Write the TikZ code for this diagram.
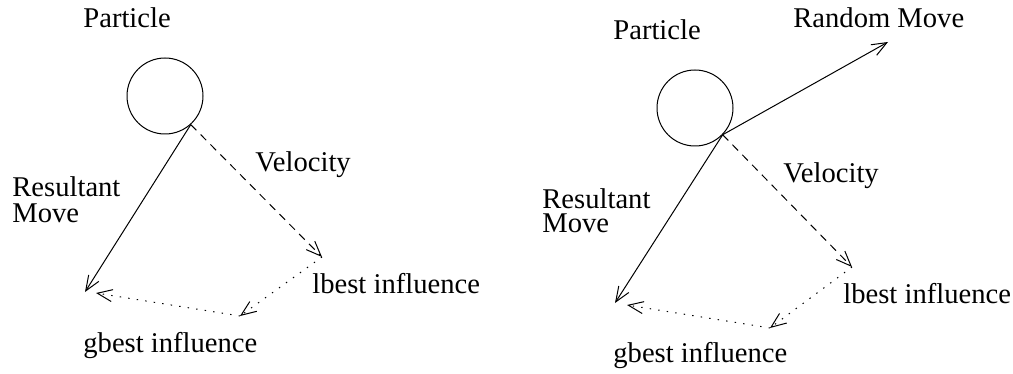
\documentclass[tikz,border=0pt]{standalone}
\usepackage{fontspec}
\setmainfont{Liberation Serif}
\usetikzlibrary{arrows.meta}
\begin{document}
\begin{tikzpicture}[x=0.5pt,y=-0.5pt,
  lbl/.style={anchor=base west,inner sep=0pt,font=\fontsize{14.3}{13}\selectfont},
  part/.style={circle,draw,line width=0.5pt,minimum size=38pt,inner sep=0pt},
  arr/.style={line width=0.5pt,-{Straight Barb[length=7.5pt,width=6pt,line width=0.5pt]}},
  vel/.style={arr,dash pattern=on 4pt off 3pt},
  infl/.style={arr,dash pattern=on 0.7pt off 3.6pt}]
\useasboundingbox (0,0) rectangle (1013,374);
% left
\node[part] (c1) at (165,96) {};
\coordinate (s1) at (c1.-48);
\coordinate (r1) at (85,292);
\coordinate (v1) at (322,257);
\coordinate (l1) at (240,316);
\coordinate (g1) at (96,293);
\draw[arr] (s1) -- (r1);
\draw[vel] (s1) -- (v1);
\draw[infl] (v1) -- (l1);
\draw[infl] (l1) -- (g1);
\node[lbl] (tp1) at (83,28) {Particle};
\node[lbl] (tv1) at (255,172) {Velocity};
\node[lbl] (tr1) at (12,197) {Resultant};
\node[lbl] (tq1) at (12,222) {Move};
\node[lbl] (tl1) at (312,293) {lbest influence};
\node[lbl] (tg1) at (83,352) {gbest influence};
% right
\node[part] (c2) at (695,108) {};
\coordinate (s2) at (c2.-44);
\coordinate (m2) at (888,42);
\coordinate (r2) at (615,303);
\coordinate (v2) at (852,267);
\coordinate (l2) at (770,328);
\coordinate (g2) at (627,305);
\draw[arr] (s2) -- (m2);
\draw[arr] (s2) -- (r2);
\draw[vel] (s2) -- (v2);
\draw[infl] (v2) -- (l2);
\draw[infl] (l2) -- (g2);
\node[lbl] (tp2) at (613,40) {Particle};
\node[lbl] (tm2) at (793,28) {Random Move};
\node[lbl] (tv2) at (783,183) {Velocity};
\node[lbl] (tr2) at (542,208) {Resultant};
\node[lbl] (tq2) at (542,233) {Move};
\node[lbl] (tl2) at (843,303) {lbest influence};
\node[lbl] (tg2) at (613,362) {gbest influence};
\end{tikzpicture}
\end{document}
